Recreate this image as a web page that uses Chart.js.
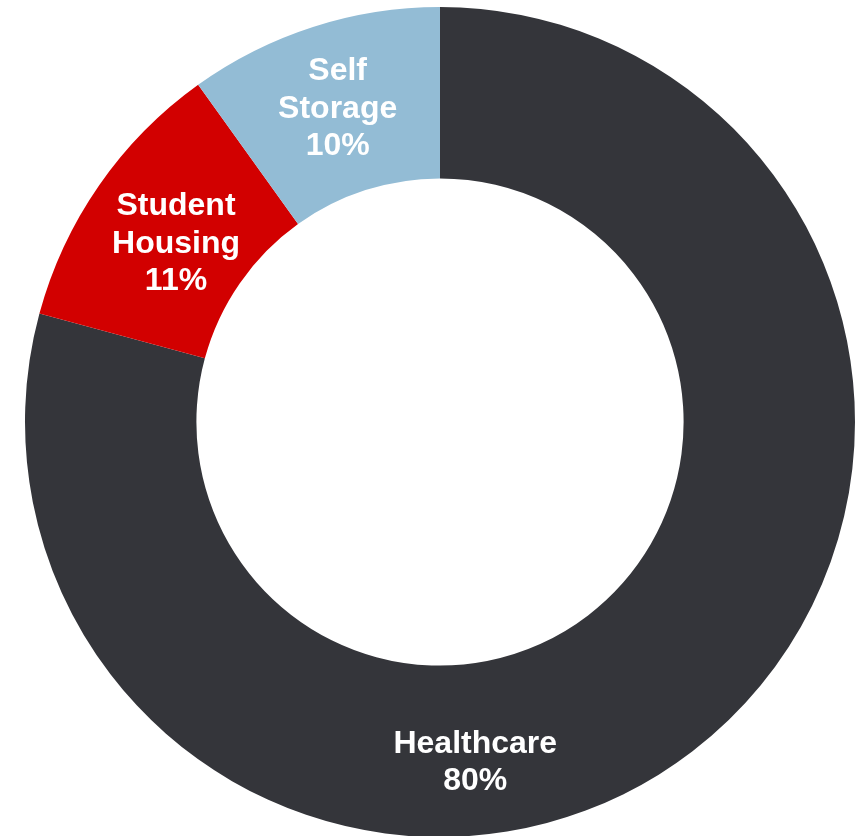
<!DOCTYPE html>
<html>
<head>
<meta charset="utf-8">
<script src="https://cdn.jsdelivr.net/npm/chart.js@4/dist/chart.umd.min.js"></script>
<style>
  html, body { margin: 0; padding: 0; background: #ffffff; overflow: hidden; }
  #wrap { position: relative; width: 861px; height: 837px; }
</style>
</head>
<body>
<div id="wrap"><canvas id="chart"></canvas></div>
<script>
// Portfolio mix by sector (percent)
const categories = ['Healthcare', 'Student Housing', 'Self Storage'];
const labelLines = [['Healthcare'], ['Student', 'Housing'], ['Self', 'Storage']];
const shares = [80, 11, 10];
const colors = ['#34353A', '#D20000', '#93BCD5'];

// Draws the white category/percent text inside each ring segment
const sliceLabels = {
  id: 'sliceLabels',
  afterDatasetsDraw(chart, args, opts) {
    const ctx = chart.ctx;
    const meta = chart.getDatasetMeta(0);
    const values = chart.data.datasets[0].data;
    ctx.save();
    ctx.fillStyle = opts.color;
    ctx.font = opts.font;
    ctx.textAlign = 'center';
    ctx.textBaseline = 'middle';
    meta.data.forEach((arc, i) => {
      const name = chart.data.labels[i];
      const p = arc.getProps(['x', 'y', 'startAngle', 'endAngle', 'innerRadius', 'outerRadius'], true);
      let angle = (p.startAngle + p.endAngle) / 2;
      const override = opts.angleOverride[name];
      if (override !== undefined) angle = override * Math.PI / 180 - Math.PI / 2;
      const r = (p.innerRadius + p.outerRadius) / 2 + (opts.radialShift[name] || 0);
      const cx = p.x + Math.cos(angle) * r;
      const cy = p.y + Math.sin(angle) * r + opts.yShift;
      const lines = labelLines[i].concat([values[i] + '%']);
      const top = cy - (lines.length - 1) * opts.lineHeight / 2;
      lines.forEach((t, k) => ctx.fillText(t, cx, top + k * opts.lineHeight));
    });
    ctx.restore();
  }
};

new Chart(document.getElementById('chart'), {
  type: 'doughnut',
  data: {
    labels: categories,
    datasets: [{
      data: shares,
      backgroundColor: colors,
      borderWidth: 0,
      hoverOffset: 0
    }]
  },
  options: {
    responsive: true,
    maintainAspectRatio: false,
    animation: false,
    cutout: '58.7%',
    rotation: 0,
    layout: { padding: { left: 25, right: 6, top: 7, bottom: 0 } },
    plugins: {
      legend: { display: false },
      tooltip: { enabled: false },
      sliceLabels: {
        color: '#ffffff',
        font: 'bold 32px "Liberation Sans", Arial, sans-serif',
        lineHeight: 37.5,
        yShift: 5,
        radialShift: { 'Healthcare': 8, 'Student Housing': -8, 'Self Storage': 5 },
        angleOverride: { 'Healthcare': 174 }
      }
    }
  },
  plugins: [sliceLabels]
});
</script>
</body>
</html>
